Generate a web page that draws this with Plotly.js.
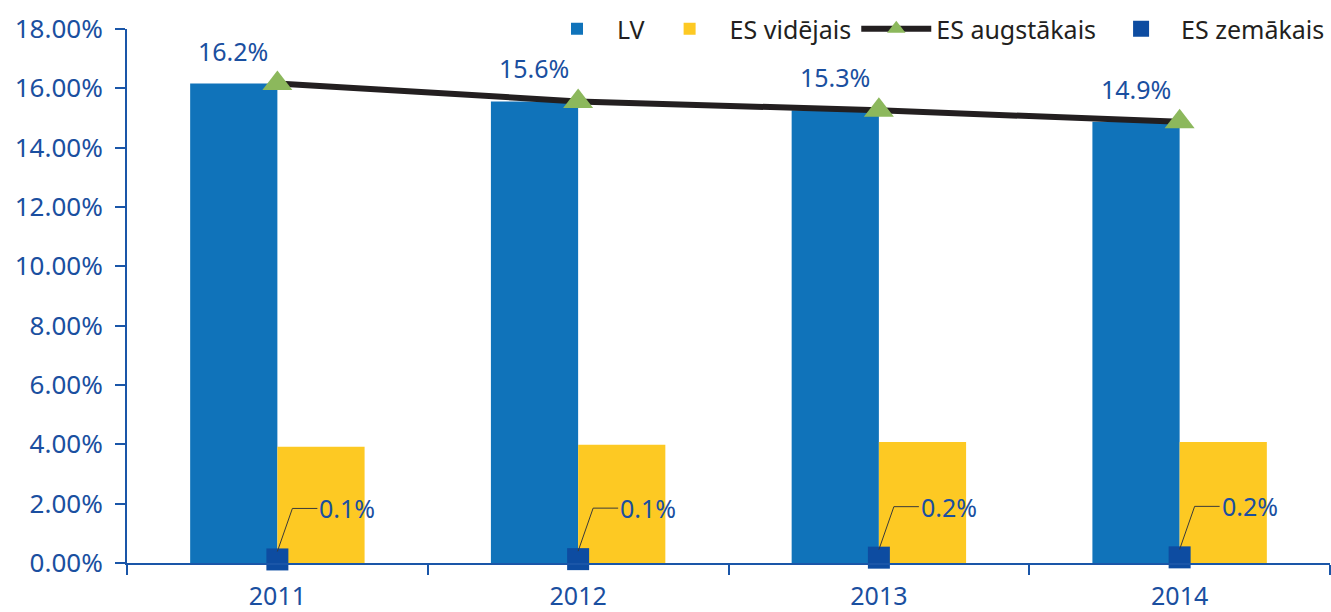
<!DOCTYPE html>
<html>
<head>
<meta charset="utf-8">
<script src="https://cdn.plot.ly/plotly-3.0.1.min.js"></script>
<style>html,body{margin:0;padding:0;background:#fff;}#chart{width:1331px;height:612px;}</style>
</head>
<body>
<div id="chart"></div>
<script>
const years = ['2011', '2012', '2013', '2014'];
const lv = [0.1616, 0.1556, 0.1526, 0.1487];
const esAvg = [0.0392, 0.0399, 0.0408, 0.0408];
const esMax = [0.1616, 0.1556, 0.1526, 0.1487];
const esMin = [0.0012, 0.0013, 0.0018, 0.0019];
const yTicks = [0, 0.02, 0.04, 0.06, 0.08, 0.10, 0.12, 0.14, 0.16, 0.18];

const textBlue = '#1a4fa0';
const axisBlue = '#1a56a8';
const fontMain = 'Noto Sans, sans-serif';

const fmt1 = v => (Math.round(v * 1000) / 10).toFixed(1) + '%';

const traces = [
  {type: 'bar', name: 'LV', x: years, y: lv, marker: {color: '#1073ba'}, hoverinfo: 'y'},
  {type: 'bar', name: 'ES vidējais', x: years, y: esAvg, marker: {color: '#fdc923'}, hoverinfo: 'y'},
  {type: 'scatter', mode: 'lines+markers', name: 'ES augstākais', x: years, y: esMax,
   line: {color: '#231f20', width: 6},
   marker: {symbol: 'triangle-up', size: 26, color: '#8cb85c'}},
  {type: 'scatter', mode: 'markers', name: 'ES zemākais', x: years, y: esMin, cliponaxis: false,
   marker: {symbol: 'square', size: 22, color: '#0d4ca1'}}
];

const annotations = [];
const shapes = [];
years.forEach((yr, i) => {
  annotations.push({x: i, y: lv[i], text: fmt1(lv[i]), showarrow: false,
    xshift: -44, yshift: 33, font: {family: fontMain, size: 25, color: textBlue}});
  annotations.push({x: i, y: esMin[i], text: fmt1(esMin[i]), showarrow: false,
    xanchor: 'left', xshift: 40, yshift: 51, font: {family: fontMain, size: 25, color: textBlue}});
  shapes.push({type: 'path', xref: 'x', yref: 'y', xsizemode: 'pixel', ysizemode: 'pixel',
    xanchor: i, yanchor: esMin[i], path: 'M0,8 L15,51 L40,51',
    line: {color: '#3a3a3a', width: 1}});
});

const layout = {
  width: 1331, height: 612,
  margin: {l: 127, r: 1, t: 29, b: 49},
  paper_bgcolor: '#ffffff', plot_bgcolor: '#ffffff',
  barmode: 'group', bargap: 0.42, bargroupgap: 0,
  showlegend: true,
  legend: {orientation: 'h', x: 1, xanchor: 'right', y: 1.0, yanchor: 'middle',
    bgcolor: 'rgba(0,0,0,0)', font: {family: fontMain, size: 25, color: '#231f20'},
    itemwidth: 70, traceorder: 'normal'},
  xaxis: {type: 'category', range: [-0.5, 3.5], showline: true, linecolor: axisBlue, linewidth: 2,
    ticks: 'outside', tickson: 'boundaries', ticklen: 10, tickwidth: 2, tickcolor: axisBlue,
    tickfont: {family: fontMain, size: 25, color: textBlue}, ticklabelstandoff: 10,
    showgrid: false, zeroline: false},
  yaxis: {range: [0, 0.18], tickvals: yTicks, tickformat: '.2%', showline: true,
    linecolor: axisBlue, linewidth: 2, ticks: 'outside', ticklen: 10, tickwidth: 2,
    tickcolor: axisBlue, tickfont: {family: fontMain, size: 26, color: textBlue},
    ticklabelstandoff: 7, showgrid: false, zeroline: false},
  annotations: annotations,
  shapes: shapes
};

Plotly.newPlot('chart', traces, layout, {displayModeBar: false, staticPlot: true});
</script>
</body>
</html>
